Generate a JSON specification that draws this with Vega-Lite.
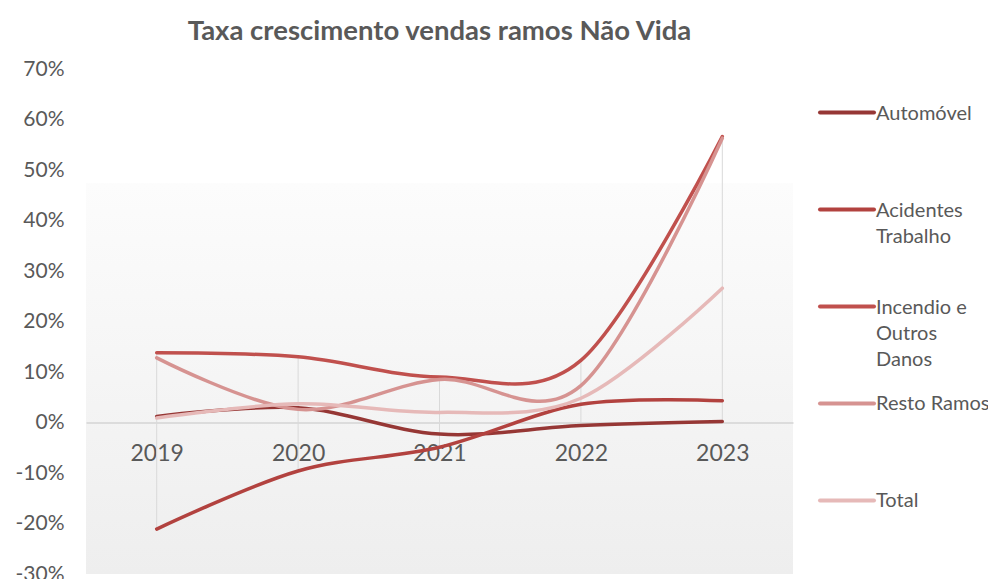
{
  "$schema": "https://vega.github.io/schema/vega-lite/v6.json",
  "padding": {"left": 15, "top": 17, "right": 0, "bottom": 0},
  "background": "white",
  "config": {
    "font": "Lato",
    "view": {"stroke": null},
    "concat": {"spacing": 25}
  },
  "datasets": {
    "growth": [
      {"year": "2019", "series": "Automóvel", "value": 0.012},
      {"year": "2020", "series": "Automóvel", "value": 0.029},
      {"year": "2021", "series": "Automóvel", "value": -0.023},
      {"year": "2022", "series": "Automóvel", "value": -0.006},
      {"year": "2023", "series": "Automóvel", "value": 0.002},
      {"year": "2019", "series": "Acidentes Trabalho", "value": -0.211},
      {"year": "2020", "series": "Acidentes Trabalho", "value": -0.096},
      {"year": "2021", "series": "Acidentes Trabalho", "value": -0.049},
      {"year": "2022", "series": "Acidentes Trabalho", "value": 0.036},
      {"year": "2023", "series": "Acidentes Trabalho", "value": 0.043},
      {"year": "2019", "series": "Incendio e Outros Danos", "value": 0.138},
      {"year": "2020", "series": "Incendio e Outros Danos", "value": 0.130},
      {"year": "2021", "series": "Incendio e Outros Danos", "value": 0.090},
      {"year": "2022", "series": "Incendio e Outros Danos", "value": 0.123},
      {"year": "2023", "series": "Incendio e Outros Danos", "value": 0.566},
      {"year": "2019", "series": "Resto Ramos", "value": 0.128},
      {"year": "2020", "series": "Resto Ramos", "value": 0.026},
      {"year": "2021", "series": "Resto Ramos", "value": 0.085},
      {"year": "2022", "series": "Resto Ramos", "value": 0.073},
      {"year": "2023", "series": "Resto Ramos", "value": 0.563},
      {"year": "2019", "series": "Total", "value": 0.009},
      {"year": "2020", "series": "Total", "value": 0.037},
      {"year": "2021", "series": "Total", "value": 0.020},
      {"year": "2022", "series": "Total", "value": 0.048},
      {"year": "2023", "series": "Total", "value": 0.266}
    ],
    "series": [
      {"series": "Automóvel", "label": ["Automóvel"]},
      {"series": "Acidentes Trabalho", "label": ["Acidentes", "Trabalho"]},
      {"series": "Incendio e Outros Danos", "label": ["Incendio e", "Outros", "Danos"]},
      {"series": "Resto Ramos", "label": ["Resto Ramos"]},
      {"series": "Total", "label": ["Total"]}
    ]
  },
  "hconcat": [
    {
      "title": {
        "text": "Taxa crescimento vendas ramos Não Vida",
        "fontSize": 27.5,
        "fontWeight": "bold",
        "color": "#595959",
        "anchor": "middle",
        "frame": "group",
        "offset": 13
      },
      "width": 707,
      "height": 505,
      "data": {"name": "growth"},
      "view": {
        "stroke": null,
        "fill": {
          "gradient": "linear",
          "x1": 0, "y1": 0, "x2": 0, "y2": 1,
          "stops": [
            {"offset": 0, "color": "#ffffff"},
            {"offset": 0.225, "color": "#ffffff"},
            {"offset": 0.227, "color": "#fcfcfc"},
            {"offset": 1, "color": "#eeeeee"}
          ]
        }
      },
      "encoding": {
        "x": {
          "field": "year",
          "type": "ordinal",
          "scale": {"type": "point", "padding": 0.5},
          "axis": {
            "title": null,
            "offset": -151.5,
            "domainColor": "#d4d4d4",
            "domainWidth": 1.5,
            "ticks": false,
            "tickSize": 0,
            "grid": false,
            "labelAngle": 0,
            "labelPadding": 20,
            "labelFontSize": 23,
            "labelColor": "#595959"
          }
        }
      },
      "layer": [
        {
          "mark": {"type": "rule", "color": "#d9d9d9", "strokeWidth": 1},
          "encoding": {
            "y": {
              "aggregate": "min",
              "field": "value",
              "type": "quantitative",
              "title": null
            },
            "y2": {"aggregate": "max", "field": "value"}
          }
        },
        {
          "mark": {
            "type": "line",
            "interpolate": "cardinal",
            "strokeWidth": 3.5,
            "strokeCap": "round"
          },
          "encoding": {
            "y": {
              "field": "value",
              "type": "quantitative",
              "title": null,
              "scale": {"domain": [-0.3, 0.7], "nice": false, "zero": false},
              "axis": {
                "title": null,
                "values": [-0.3, -0.2, -0.1, 0, 0.1, 0.2, 0.3, 0.4, 0.5, 0.6, 0.7],
                "labelExpr": "round(datum.value * 100) + '%'",
                "domain": false,
                "ticks": false,
                "grid": false,
                "labelPadding": 22,
                "labelFontSize": 21,
                "labelColor": "#595959"
              }
            },
            "color": {
              "field": "series",
              "type": "nominal",
              "scale": {
                "domain": ["Automóvel", "Acidentes Trabalho", "Incendio e Outros Danos", "Resto Ramos", "Total"],
                "range": ["#963735", "#b2423f", "#c0504d", "#d69391", "#e6b9b8"]
              },
              "legend": null
            }
          }
        }
      ]
    },
    {
      "width": 54,
      "height": 475,
      "data": {"name": "series"},
      "encoding": {
        "y": {
          "field": "series",
          "type": "nominal",
          "sort": null,
          "scale": {
            "type": "point",
            "domain": ["Automóvel", "Acidentes Trabalho", "Incendio e Outros Danos", "Resto Ramos", "Total"],
            "padding": 0.45
          },
          "axis": null
        },
        "color": {
          "field": "series",
          "type": "nominal",
          "scale": {
            "domain": ["Automóvel", "Acidentes Trabalho", "Incendio e Outros Danos", "Resto Ramos", "Total"],
            "range": ["#963735", "#b2423f", "#c0504d", "#d69391", "#e6b9b8"]
          },
          "legend": null
        }
      },
      "layer": [
        {
          "mark": {"type": "rule", "strokeWidth": 4, "strokeCap": "round"},
          "encoding": {
            "x": {
              "datum": 0,
              "type": "quantitative",
              "scale": {"domain": [0, 1], "nice": false, "zero": false},
              "axis": null
            },
            "x2": {"datum": 1}
          }
        },
        {
          "mark": {
            "type": "text",
            "align": "left",
            "baseline": "alphabetic",
            "dx": 2,
            "dy": 7,
            "fontSize": 20,
            "lineHeight": 26,
            "color": "#595959"
          },
          "encoding": {
            "x": {"datum": 1, "type": "quantitative"},
            "text": {"field": "label", "type": "nominal"},
            "color": {"value": "#595959"}
          }
        }
      ]
    }
  ]
}
